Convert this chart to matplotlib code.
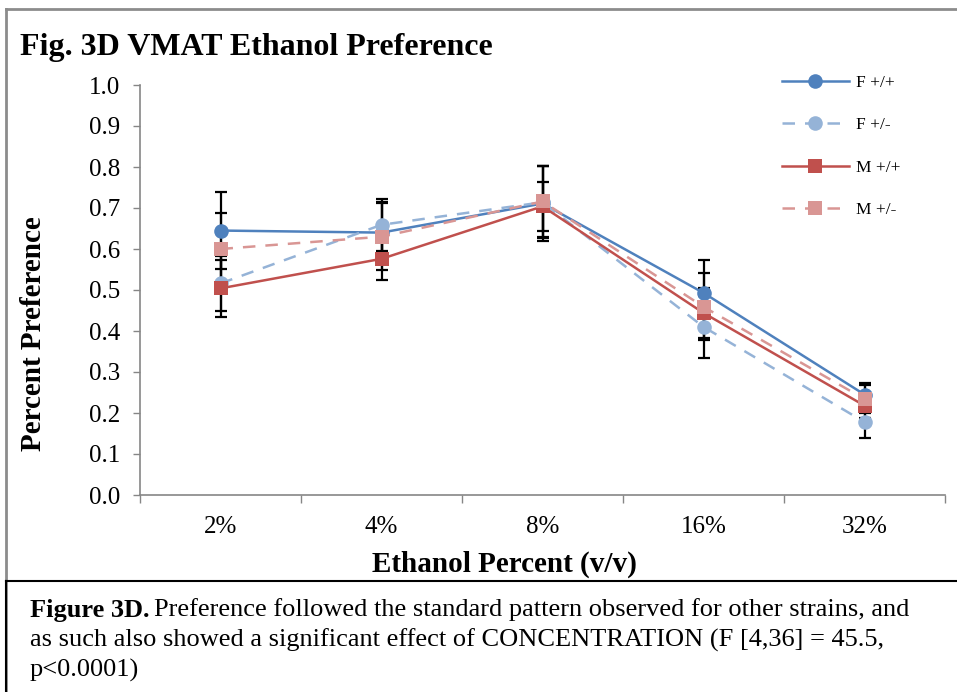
import matplotlib
matplotlib.use("Agg")
import matplotlib.pyplot as plt
from matplotlib.lines import Line2D
import numpy as np

plt.rcParams["font.family"] = ["Liberation Serif", "DejaVu Serif"]

##DATA
concentrations = ["2%", "4%", "8%", "16%", "32%"]
series_names = ["F +/+", "F +/-", "M +/+", "M +/-"]
f_wt = [0.645, 0.640, 0.711, 0.493, 0.245]
f_het = [0.516, 0.659, 0.714, 0.410, 0.178]
m_wt = [0.504, 0.576, 0.704, 0.444, 0.218]
m_het = [0.600, 0.630, 0.716, 0.459, 0.234]
f_wt_err = [0.093, 0.075, 0.091, 0.080, 0.028]
f_het_err = [0.066, 0.063, 0.088, 0.076, 0.040]
m_wt_err = [0.070, 0.052, 0.060, 0.061, 0.030]
m_het_err = [0.087, 0.081, 0.086, 0.082, 0.035]

##STYLE
colors = ["#4F81BD", "#95B3D7", "#C0504D", "#D99694"]
styles = ["-", "--", "-", "--"]
markers = ["o", "o", "s", "s"]
all_values = [f_wt, f_het, m_wt, m_het]
all_errs = [f_wt_err, f_het_err, m_wt_err, m_het_err]

W, H = 957, 692
fig = plt.figure(figsize=(W / 100, H / 100), dpi=100)

# frame around the panel and caption box
fig.add_artist(Line2D([6 / W, 1], [1 - 9 / H, 1 - 9 / H], color="#8c8c8c", lw=2))
fig.add_artist(Line2D([6 / W, 6 / W], [1 - 9 / H, 0], color="#8c8c8c", lw=2))
fig.add_artist(Line2D([6 / W, 1], [1 - 581 / H, 1 - 581 / H], color="black", lw=1.5))
fig.add_artist(Line2D([6 / W, 6 / W], [1 - 581 / H, 0], color="black", lw=1.5))

ax = fig.add_axes([140 / W, 1 - 495 / H, 805 / W, 410 / H])
x = np.arange(len(concentrations))

handles = []
for vals, errs in zip(all_values, all_errs):
    ax.errorbar(x, vals, yerr=errs, fmt="none", ecolor="black", elinewidth=1.6,
                capsize=4.5, capthick=1.6, zorder=2)
for vals, c, ls, m, name in zip(all_values, colors, styles, markers, series_names):
    (ln,) = ax.plot(x, vals, linestyle=ls, color=c, lw=1.8, marker=m,
                    markersize=10.5, markeredgewidth=0, label=name, zorder=3,
                    dashes=(5, 4) if ls == "--" else (None, None))
    handles.append(ln)

ax.set_xlim(-0.5, len(concentrations) - 0.5)
ax.set_ylim(0, 1.0)
ax.set_yticks(np.arange(0, 1.01, 0.1))
ax.set_yticklabels([f"{v:.1f}" for v in np.arange(0, 1.01, 0.1)])
ax.set_xticks(x)
ax.set_xticklabels(concentrations)
ax.set_xticks(np.arange(-0.5, len(concentrations)), minor=True)
ax.tick_params(axis="x", which="major", length=0, pad=15, labelsize=18)
ax.tick_params(axis="x", which="minor", length=6, color="#868686", width=1)
ax.tick_params(axis="y", length=5, color="#868686", width=1, pad=9, labelsize=18)
for s in ["top", "right"]:
    ax.spines[s].set_visible(False)
for s in ["left", "bottom"]:
    ax.spines[s].set_color("#868686")
    ax.spines[s].set_linewidth(1.2)

fig.text(20 / W, 1 - 48 / H, "Fig. 3D VMAT Ethanol Preference", fontsize=23,
         fontweight="bold", va="center", ha="left")
fig.text(34 / W, 1 - 334 / H, "Percent Preference", fontsize=21, fontweight="bold",
         rotation=90, va="center", ha="center")
fig.text(504 / W, 1 - 564 / H, "Ethanol Percent (v/v)", fontsize=21,
         fontweight="bold", va="center", ha="center")

fig.legend(handles=handles, loc="upper left", bbox_to_anchor=(766 / W, 1 - 59 / H),
           frameon=False, handlelength=3.9, labelspacing=1.52, fontsize=12.5,
           handletextpad=0.4)

# caption
fig.canvas.draw()
renderer = fig.canvas.get_renderer()
t1 = fig.text(30 / W, 1 - 610 / H, "Figure 3D.", fontsize=19, fontweight="bold",
              va="center", ha="left")
bb = t1.get_window_extent(renderer=renderer)
fig.text(bb.x1 / W + 5 / W, 1 - 610 / H,
         "Preference followed the standard pattern observed for other strains, and",
         fontsize=19, va="center", ha="left")
fig.text(30 / W, 1 - 640 / H,
         "as such also showed a significant effect of CONCENTRATION (F [4,36] = 45.5,",
         fontsize=19, va="center", ha="left")
fig.text(30 / W, 1 - 670 / H, "p<0.0001)", fontsize=19, va="center", ha="left")

fig.savefig("out.png", dpi=100)
